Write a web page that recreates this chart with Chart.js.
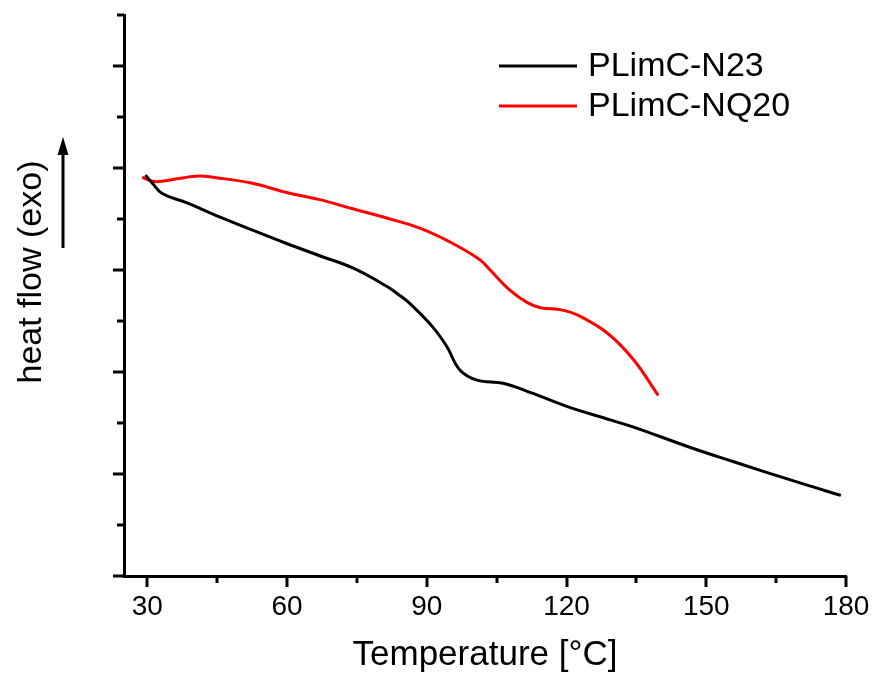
<!DOCTYPE html>
<html>
<head>
<meta charset="utf-8">
<script src="https://cdn.jsdelivr.net/npm/chart.js@4/dist/chart.umd.min.js"></script>
<style>
  html, body { margin: 0; padding: 0; background: #fff; }
  #wrap { width: 873px; height: 675px; }
</style>
</head>
<body>
<div id="wrap"><canvas id="dsc"></canvas></div>
<script>
// values (temperature in °C, heat flow in arbitrary units)
var n23Temp = [29.6, 31.1, 33.2, 38.4, 45.5, 52.6, 59.9, 67.0, 74.1, 81.4, 84.2, 86.4, 91.3, 94.3, 97.1, 100.8, 106.4, 112.8, 120.2, 129.4, 134.4, 146.6, 155.9, 170.3, 178.9];
var n23Flow = [3.93, 3.85, 3.75, 3.66, 3.52, 3.39, 3.26, 3.14, 3.02, 2.84, 2.75, 2.67, 2.44, 2.25, 2.02, 1.92, 1.89, 1.79, 1.66, 1.53, 1.46, 1.26, 1.12, 0.91, 0.79];

var nq20Temp = [28.9, 31.1, 33.2, 40.5, 45.5, 52.6, 59.9, 67.0, 74.1, 81.4, 88.5, 95.6, 101.4, 103.6, 107.9, 111.6, 114.4, 118.7, 122.3, 128.8, 134.4, 139.7];
var nq20Flow = [3.91, 3.87, 3.87, 3.92, 3.90, 3.85, 3.76, 3.69, 3.60, 3.51, 3.41, 3.26, 3.10, 3.00, 2.80, 2.68, 2.63, 2.61, 2.56, 2.38, 2.12, 1.77];

var xTickLabels = [30, 60, 90, 120, 150, 180];
var xMinorTicks = [45, 75, 105, 135, 165];
var yMajorTicks = [0, 1, 2, 3, 4, 5];
var yMinorTicks = [0.5, 1.5, 2.5, 3.5, 4.5, 5.5];

var FONT = '"Liberation Sans", Arial, sans-serif';

function pts(xs, ys) {
    var out = [];
    for (var i = 0; i < xs.length; i++) out.push({x: xs[i], y: ys[i]});
    return out;
}

// ticks, labels, titles and legend drawn by hand to get origin-like look
var decor = {
    id: "decor",
    afterDraw: function (chart) {
        var ctx = chart.ctx;
        var xs = chart.scales.x, ys = chart.scales.y;
        var area = chart.chartArea;
        ctx.save();
        ctx.strokeStyle = "#000";
        ctx.lineWidth = 3;
        ctx.lineCap = "butt";

        function xt(v, len) {
            var px = Math.round(xs.getPixelForValue(v));
            ctx.beginPath(); ctx.moveTo(px, area.bottom); ctx.lineTo(px, area.bottom + len); ctx.stroke();
        }
        function yt(v, len) {
            var py = Math.round(ys.getPixelForValue(v));
            ctx.beginPath(); ctx.moveTo(area.left, py); ctx.lineTo(area.left - len, py); ctx.stroke();
        }
        xTickLabels.forEach(function (v) { xt(v, 11); });
        xMinorTicks.forEach(function (v) { xt(v, 7); });
        yMajorTicks.forEach(function (v) { yt(v, 11); });
        yMinorTicks.forEach(function (v) { yt(v, 7); });

        ctx.fillStyle = "#000";
        ctx.textAlign = "center";
        ctx.textBaseline = "middle";
        ctx.font = "28px " + FONT;
        xTickLabels.forEach(function (v) {
            ctx.fillText(String(v), xs.getPixelForValue(v), 607);
        });

        ctx.font = "35px " + FONT;
        ctx.fillText("Temperature [°C]", 485, 655);

        ctx.font = "34px " + FONT;
        ctx.save();
        ctx.translate(32, 272);
        ctx.rotate(-Math.PI / 2);
        ctx.fillText("heat flow (exo)", 0, 0);
        ctx.restore();

        // arrow next to y title
        ctx.beginPath(); ctx.moveTo(63, 248); ctx.lineTo(63, 150); ctx.stroke();
        ctx.beginPath();
        ctx.moveTo(63, 137); ctx.lineTo(57.5, 155); ctx.lineTo(68.5, 155); ctx.closePath();
        ctx.fill();

        // legend
        ctx.textAlign = "left";
        ctx.font = "34px " + FONT;
        var ly = [66, 106];
        chart.data.datasets.forEach(function (ds, i) {
            ctx.strokeStyle = ds.borderColor;
            ctx.beginPath(); ctx.moveTo(499, ly[i]); ctx.lineTo(577, ly[i]); ctx.stroke();
            ctx.fillStyle = "#000";
            ctx.fillText(ds.label, 588, ly[i] + 1);
        });
        ctx.restore();
    }
};

new Chart(document.getElementById("dsc"), {
    type: "line",
    data: {
        datasets: [
            {
                label: "PLimC-N23",
                data: pts(n23Temp, n23Flow),
                borderColor: "#000000",
                borderWidth: 3,
                pointRadius: 0,
                tension: 0.4,
                fill: false
            },
            {
                label: "PLimC-NQ20",
                data: pts(nq20Temp, nq20Flow),
                borderColor: "#ff0000",
                borderWidth: 3,
                pointRadius: 0,
                tension: 0.4,
                fill: false
            }
        ]
    },
    options: {
        responsive: true,
        maintainAspectRatio: false,
        animation: false,
        layout: { padding: { top: 15, right: 27, left: 0, bottom: 0 } },
        plugins: { legend: { display: false }, tooltip: { enabled: false } },
        scales: {
            x: {
                type: "linear",
                min: 25,
                max: 180,
                grid: { display: false },
                border: { display: true, color: "#000", width: 3 },
                ticks: { display: false },
                afterFit: function (s) { s.height = 99; }
            },
            y: {
                type: "linear",
                min: 0,
                max: 5.5,
                grid: { display: false },
                border: { display: true, color: "#000", width: 3 },
                ticks: { display: false },
                afterFit: function (s) { s.width = 124; }
            }
        }
    },
    plugins: [decor]
});
</script>
</body>
</html>
